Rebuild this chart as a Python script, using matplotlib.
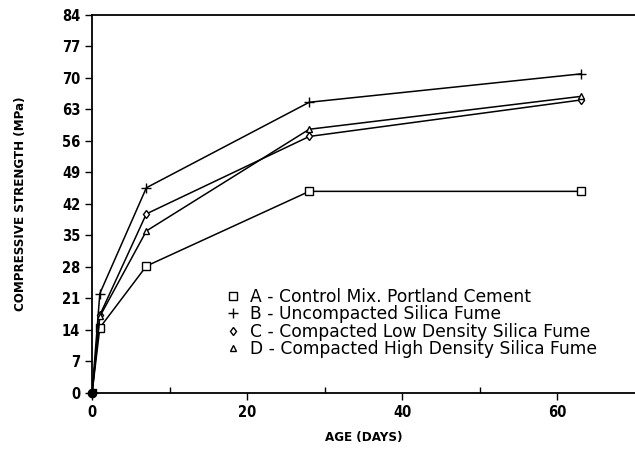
import matplotlib
import matplotlib.pyplot as plt
from matplotlib.lines import Line2D

matplotlib.use("Agg")

days = [0, 1, 7, 28, 63]
mix_a = [0, 14.5, 28.2, 44.8, 44.8]
mix_b = [0, 22.1, 45.6, 64.6, 70.9]
mix_c = [0, 17.3, 39.8, 57.0, 65.1]
mix_d = [0, 17.0, 36.0, 58.6, 65.9]
series = [mix_a, mix_b, mix_c, mix_d]
names = ["A - Control Mix. Portland Cement",
         "B - Uncompacted Silica Fume",
         "C - Compacted Low Density Silica Fume",
         "D - Compacted High Density Silica Fume"]
markers = ["s", "+", "d", "^"]
sizes = [6, 7, 4.5, 4.5]
y_ticks = list(range(0, 85, 7))
x_ticks = [0, 20, 40, 60]

tick_font = dict(family="DejaVu Sans", stretch="condensed", weight="bold")

fig = plt.figure(figsize=(6.35, 4.53), dpi=100)
ax = fig.add_axes([0.145, 0.1325, 0.855, 0.8345])

for vals, m, s in zip(series, markers, sizes):
    ax.plot(days, vals, color="black", linewidth=1.1, marker=m, markersize=s,
            markerfacecolor="white", markeredgecolor="black", markeredgewidth=1.0)
# the origin shows up as a solid blob in the original
ax.plot(days[0], mix_a[0], "o", color="black", markersize=6, clip_on=False, zorder=5)

ax.set_xlim(0, 70)
ax.set_ylim(0, 84)
ax.set_yticks(y_ticks)
ax.set_xticks(x_ticks)
ax.set_xticks([10, 30, 50], minor=True)
ax.tick_params(axis="both", direction="out", length=5, width=1, colors="black")
ax.tick_params(axis="x", which="minor", direction="in", length=4, width=1)
ax.spines["right"].set_visible(False)
for sp in ["left", "bottom", "top"]:
    ax.spines[sp].set_linewidth(1.3)
for lbl in ax.get_xticklabels() + ax.get_yticklabels():
    lbl.set_fontproperties(matplotlib.font_manager.FontProperties(size=10.5, **tick_font))

ax.set_xlabel("AGE (DAYS)", fontsize=9.5, labelpad=8, **tick_font)
ax.set_ylabel("COMPRESSIVE STRENGTH (MPa)", fontsize=9.5, labelpad=25, **tick_font)

handles = [Line2D([], [], linestyle="none", marker=m, markersize=s, color="black",
                  markerfacecolor="white", markeredgewidth=1.0)
           for m, s in zip(markers, sizes)]
ax.legend(handles, names, loc="upper left", bbox_to_anchor=(0.235, 0.295),
          frameon=False, handlelength=0.8, handletextpad=0.6,
          labelspacing=-0.05, borderaxespad=0,
          prop={"family": "DejaVu Sans", "size": 12.3})

fig.savefig("out.png", dpi=100)
